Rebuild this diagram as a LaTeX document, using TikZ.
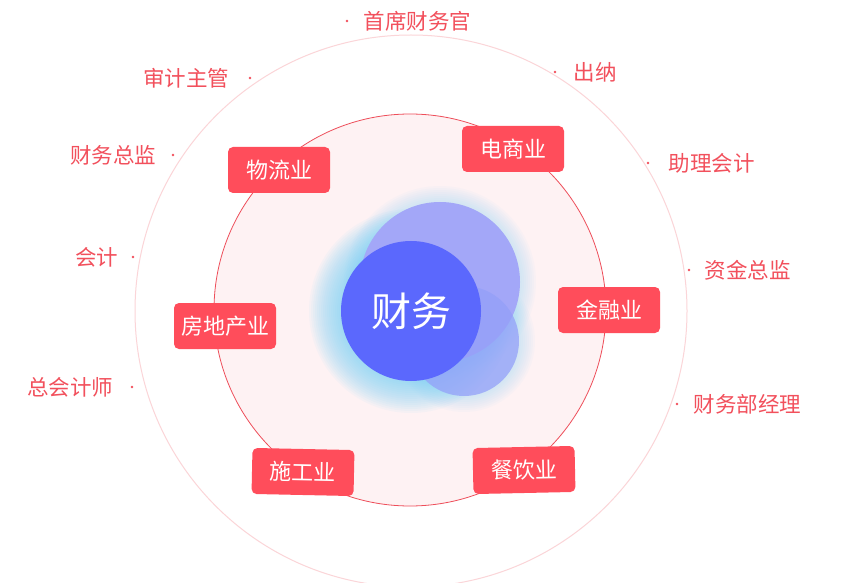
\documentclass[tikz,border=0pt]{standalone}
\usepackage{fontspec}
\setmainfont{Noto Sans CJK SC}
\usepackage{xcolor}
\usepackage{tikz}
\usetikzlibrary{positioning}
\definecolor{FinRed}{HTML}{FF4D5B}
\definecolor{FinLabel}{HTML}{F2505C}
\definecolor{FinRing}{HTML}{FBD5D8}
\definecolor{FinPink}{HTML}{FEF2F3}
\definecolor{FinEdge}{HTML}{EE4E5A}
\definecolor{FinCore}{HTML}{5B68FD}
\definecolor{FinLilac}{HTML}{A3A7F8}
\definecolor{FinBlue}{HTML}{8A9CFA}
\definecolor{FinGlow}{HTML}{74D2FB}

\tikzset{
  finbox/.style={rectangle, rounded corners=5bp, fill=FinRed, text=white,
    minimum width=102bp, minimum height=46bp, inner sep=0pt,
    font=\fontsize{22bp}{26bp}\selectfont},
  roledot/.style={circle, fill=FinLabel, inner sep=0pt, minimum size=2.6bp},
  rolelabel/.style={text=FinLabel, fill=white, inner sep=2bp,
    font=\fontsize{21.5bp}{25bp}\selectfont},
}

\begin{document}
\begin{tikzpicture}[x=1bp,y=-1bp]
  \useasboundingbox (0,0) rectangle (841,583);
  \fill[white] (0,0) rectangle (841,583);
  % rings
  \draw[FinRing, line width=1bp] (411,311) circle (276);
  \draw[FinEdge, fill=FinPink, line width=0.8bp] (410,310) circle (196);
  % glow behind the core
  \foreach \r in {80,82,...,96} {
    \fill[FinGlow, fill opacity=0.04] (440,282) circle (\r);
  }
  \foreach \r in {55,57,...,71} {
    \fill[FinGlow, fill opacity=0.04] (464,341) circle (\r);
  }
  \foreach \r in {70,72,...,102} {
    \fill[FinGlow, fill opacity=0.06] (411,311) circle (\r);
  }
  \fill[FinLilac] (440,282) circle (80);
  \fill[FinBlue!60!FinLilac, fill opacity=0.75] (464,341) circle (55);
  \node[circle, fill=FinCore, minimum size=140bp, inner sep=0pt, text=white,
    font=\fontsize{40bp}{44bp}\selectfont] (core) at (411,311) {财务};

  % industries
  \node[finbox] (logistics) at (279,170) {物流业};
  \node[finbox] (ecommerce) at (513,149) {电商业};
  \node[finbox] (realestate) at (225,326) {房地产业};
  \node[finbox] (finance) at (609,310) {金融业};
  \node[finbox, rotate=-1.2] (construction) at (303,472) {施工业};
  \node[finbox, rotate=1.2] (catering) at (524,470) {餐饮业};

  % roles, right side
  \node[roledot] (cfo dot) at (347,21) {};
  \node[rolelabel, right=13bp of cfo dot] (cfo) {首席财务官};
  \node[roledot] (cashier dot) at (555,72) {};
  \node[rolelabel, right=15bp of cashier dot] (cashier) {出纳};
  \node[roledot] (assistant dot) at (648,163) {};
  \node[rolelabel, right=17bp of assistant dot] (assistant) {助理会计};
  \node[roledot] (treasury dot) at (689,270) {};
  \node[rolelabel, right=12bp of treasury dot] (treasury) {资金总监};
  \node[roledot] (manager dot) at (677,404) {};
  \node[rolelabel, right=13bp of manager dot] (manager) {财务部经理};
  % roles, left side
  \node[roledot] (audit dot) at (250,78) {};
  \node[rolelabel, left=17bp of audit dot] (audit) {审计主管};
  \node[roledot] (director dot) at (173,155) {};
  \node[rolelabel, left=13bp of director dot] (director) {财务总监};
  \node[roledot] (accountant dot) at (133,257) {};
  \node[rolelabel, left=11bp of accountant dot] (accountant) {会计};
  \node[roledot] (chief dot) at (132,387) {};
  \node[rolelabel, left=15bp of chief dot] (chief) {总会计师};
\end{tikzpicture}
\end{document}
